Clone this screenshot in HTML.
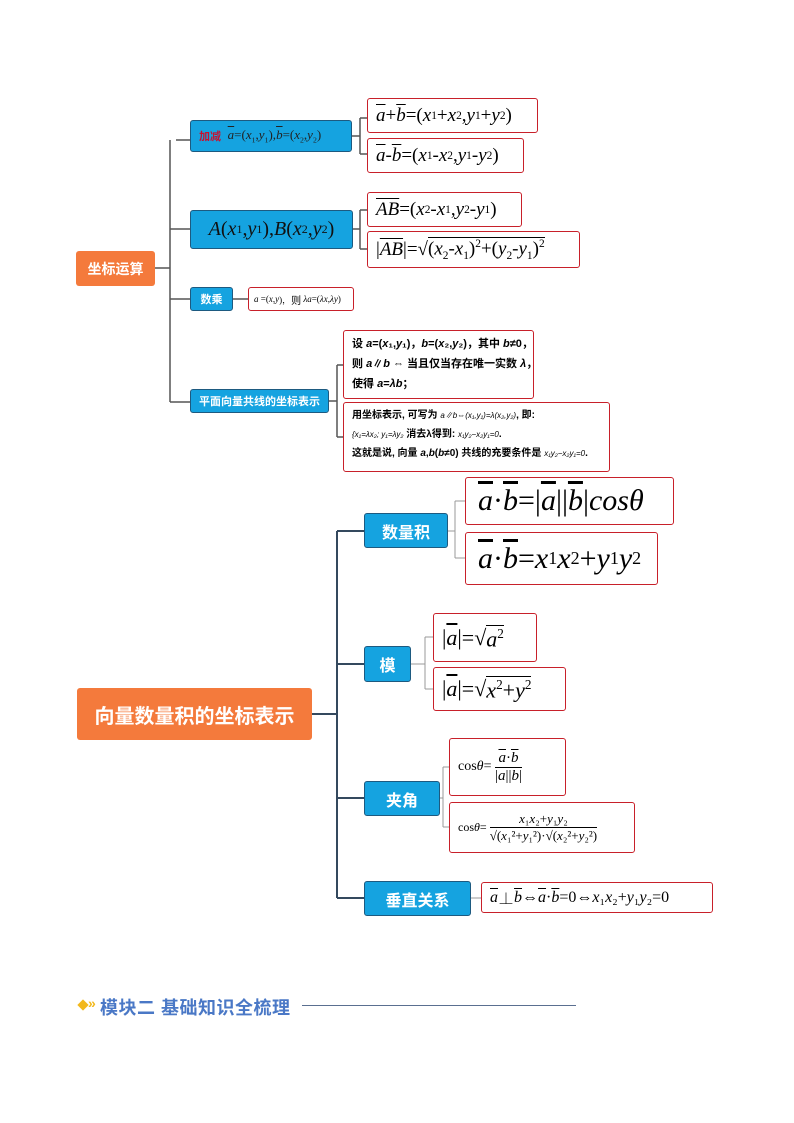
<!DOCTYPE html>
<html><head><meta charset="utf-8"><style>
body{margin:0;width:794px;height:1123px;background:#fff;position:relative;overflow:hidden;font-family:"Liberation Sans","Noto Sans CJK SC",sans-serif}
.a{position:absolute;box-sizing:border-box}
.o{background:#f47a3c;color:#fff;font-weight:bold;display:flex;align-items:center;justify-content:center;border-radius:3px}
.b{background:#15a3e0;color:#fff;font-weight:bold;display:flex;align-items:center;justify-content:center;border:1px solid #1d5a80;border-radius:3px}
.r{border:1.5px solid #c8202a;background:#fff;border-radius:3px;display:flex;align-items:center;padding-left:8px;white-space:nowrap;font-family:"Liberation Serif","Noto Serif CJK SC",serif;color:#000}
i{font-style:italic}
sub{font-size:60%}
sup{font-size:60%}
.t{font-family:"Liberation Sans","Noto Sans CJK SC",sans-serif;font-size:11px;font-weight:bold;display:block;padding:2px 0}
.v{text-decoration:overline}
.rad{border-top:1.5px solid #000;padding-top:1px;line-height:1}
</style></head><body>
<svg class="a" style="left:0;top:0" width="794" height="1123">
<g fill="none" stroke="#555" stroke-width="1.5">
<path d="M155 268H170M170 140V402M176 140H190M170 229H190M170 299H190M170 402H190M176 402"/>
<path d="M352 136H360M360 118V154M360 118H367M360 154H367M353 229H360M360 210V249M360 210H367M360 249H367M233 299H248M329 401H337M337 365V437M337 365H343M337 437H343"/>
<path d="M312 714H337M337 531V898M337 531H364M337 664H364M337 798H364M337 898H364" stroke="#34495e" stroke-width="2"/>
<path d="M448 531H455M455 501V558M455 501H465M455 558H465M411 664H425M425 637V689M425 637H433M425 689H433M440 798H443M443 767V827M443 767H449M443 827H449M471 898H481" stroke="#999" stroke-width="1"/>
</g></svg>
<div class="a o" style="left:76px;top:251px;width:79px;height:35px;font-size:14px">坐标运算</div>
<div class="a b" style="left:190px;top:120px;width:162px;height:32px;font-size:12px;justify-content:flex-start;padding-left:8px"><span style="color:#c8102e;font-size:11px">加减</span>&nbsp;&nbsp;<span style="font-family:'Liberation Serif',serif;color:#222;font-weight:normal;font-size:13px"><i class="v">a</i>=(<i>x</i><sub>1</sub>,<i>y</i><sub>1</sub>),<i class="v">b</i>=(<i>x</i><sub>2</sub>,<i>y</i><sub>2</sub>)</span></div>
<div class="a r" style="left:367px;top:98px;width:171px;height:35px;font-size:19px"><i class="v">a</i>+<i class="v">b</i>=(<i>x</i><sub>1</sub>+<i>x</i><sub>2</sub>,<i>y</i><sub>1</sub>+<i>y</i><sub>2</sub>)</div>
<div class="a r" style="left:367px;top:138px;width:157px;height:35px;font-size:19px"><i class="v">a</i>-<i class="v">b</i>=(<i>x</i><sub>1</sub>-<i>x</i><sub>2</sub>,<i>y</i><sub>1</sub>-<i>y</i><sub>2</sub>)</div>
<div class="a b" style="left:190px;top:210px;width:163px;height:39px;font-family:'Liberation Serif',serif;font-weight:normal;color:#111;font-size:20px"><i>A</i>(<i>x</i><sub>1</sub>,<i>y</i><sub>1</sub>),<i>B</i>(<i>x</i><sub>2</sub>,<i>y</i><sub>2</sub>)</div>
<div class="a r" style="left:367px;top:192px;width:155px;height:35px;font-size:19px"><i class="v">AB</i>=(<i>x</i><sub>2</sub>-<i>x</i><sub>1</sub>,<i>y</i><sub>2</sub>-<i>y</i><sub>1</sub>)</div>
<div class="a r" style="left:367px;top:231px;width:213px;height:37px;font-size:19px">|<i class="v">AB</i>|=√<span class="rad">(<i>x</i><sub>2</sub>-<i>x</i><sub>1</sub>)<sup>2</sup>+(<i>y</i><sub>2</sub>-<i>y</i><sub>1</sub>)<sup>2</sup></span></div>
<div class="a b" style="left:190px;top:287px;width:43px;height:24px;font-size:11px">数乘</div>
<div class="a r" style="left:248px;top:287px;width:106px;height:24px;font-size:9px;padding-left:5px"><i>a</i>&nbsp;=(<i>x</i>,<i>y</i>)，<span style="font-family:'Noto Sans CJK SC';font-size:10px">则</span>&nbsp;<i>λa</i>=(<i>λx</i>,<i>λy</i>)</div>
<div class="a b" style="left:190px;top:389px;width:139px;height:24px;font-size:11px">平面向量共线的坐标表示</div>
<div class="a r" style="left:343px;top:330px;width:191px;height:69px;display:block;padding-top:2px"><span class="t">设 <i>a</i>=(<i>x</i>₁,<i>y</i>₁)，<i>b</i>=(<i>x</i>₂,<i>y</i>₂)，其中 <i>b</i>≠0，</span><span class="t">则 <i>a</i>∥<i>b</i> ⇔ 当且仅当存在唯一实数 <i>λ</i>，</span><span class="t">使得 <i>a</i>=<i>λb</i>；</span></div>
<div class="a r" style="left:343px;top:402px;width:267px;height:70px;display:block;padding-top:1px;font-size:10px"><span class="t" style="font-size:10px">用坐标表示, 可写为 <i style="font-weight:normal;font-size:8px">a∥b⇔(x₁,y₁)=λ(x₂,y₂)</i>, 即:</span><span class="t" style="font-size:10px"><i style="font-weight:normal;font-size:8px">{x₁=λx₂; y₁=λy₂</i> 消去λ得到: <i style="font-weight:normal;font-size:8px">x₁y₂−x₂y₁=0</i>.</span><span class="t" style="font-size:10px">这就是说, 向量 <i>a</i>,<i>b</i>(<i>b</i>≠0) 共线的充要条件是 <i style="font-weight:normal;font-size:8px">x₁y₂−x₂y₁=0</i>.</span></div>

<div class="a o" style="left:77px;top:688px;width:235px;height:52px;font-size:20px">向量数量积的坐标表示</div>
<div class="a b" style="left:364px;top:513px;width:84px;height:35px;font-size:16px">数量积</div>
<div class="a b" style="left:364px;top:646px;width:47px;height:36px;font-size:16px">模</div>
<div class="a b" style="left:364px;top:781px;width:76px;height:35px;font-size:16px">夹角</div>
<div class="a b" style="left:364px;top:881px;width:107px;height:35px;font-size:16px">垂直关系</div>
<div class="a r" style="left:465px;top:477px;width:209px;height:48px;font-size:30px;padding-left:12px"><i class="v">a</i>·<i class="v">b</i>=|<i class="v">a</i>||<i class="v">b</i>|<i>cosθ</i></div>
<div class="a r" style="left:465px;top:532px;width:193px;height:53px;font-size:30px;padding-left:12px"><i class="v">a</i>·<i class="v">b</i>=<i>x</i><sub>1</sub><i>x</i><sub>2</sub>+<i>y</i><sub>1</sub><i>y</i><sub>2</sub></div>
<div class="a r" style="left:433px;top:613px;width:104px;height:49px;font-size:22px">|<i class="v">a</i>|=√<span class="rad"><i>a</i><sup>2</sup></span></div>
<div class="a r" style="left:433px;top:667px;width:133px;height:44px;font-size:22px">|<i class="v">a</i>|=√<span class="rad"><i>x</i><sup>2</sup>+<i>y</i><sup>2</sup></span></div>
<div class="a r" style="left:449px;top:738px;width:117px;height:58px;font-size:14px">cos<i>θ</i>=&nbsp;<span style="display:inline-block;text-align:center;font-size:15px"><span style="display:block;border-bottom:1px solid #000"><i class="v">a</i>·<i class="v">b</i></span><span>|<i>a</i>||<i>b</i>|</span></span></div>
<div class="a r" style="left:449px;top:802px;width:186px;height:51px;font-size:12px">cos<i>θ</i>=&nbsp;<span style="display:inline-block;text-align:center;font-size:13px"><span style="display:block;border-bottom:1px solid #000"><i>x</i>₁<i>x</i>₂+<i>y</i>₁<i>y</i>₂</span><span>√(<i>x</i>₁²+<i>y</i>₁²)·√(<i>x</i>₂²+<i>y</i>₂²)</span></span></div>
<div class="a r" style="left:481px;top:882px;width:232px;height:31px;font-size:16px"><i class="v">a</i>⊥<i class="v">b</i>⇔<i class="v">a</i>·<i class="v">b</i>=0⇔<i>x</i>₁<i>x</i>₂+<i>y</i>₁<i>y</i>₂=0</div>

<div class="a" style="left:79px;top:1001px;width:8px;height:8px;background:#f2b81c;transform:rotate(45deg)"></div>
<div class="a" style="left:88px;top:995px;color:#f2b81c;font-size:14px;font-weight:bold">»</div>
<div class="a" style="left:100px;top:994px;color:#4a78c6;font-size:18px;font-weight:bold;white-space:nowrap;letter-spacing:0.5px">模块二 基础知识全梳理</div>
<div class="a" style="left:302px;top:1005px;width:274px;height:1px;background:#5a6f90"></div>
</body></html>
